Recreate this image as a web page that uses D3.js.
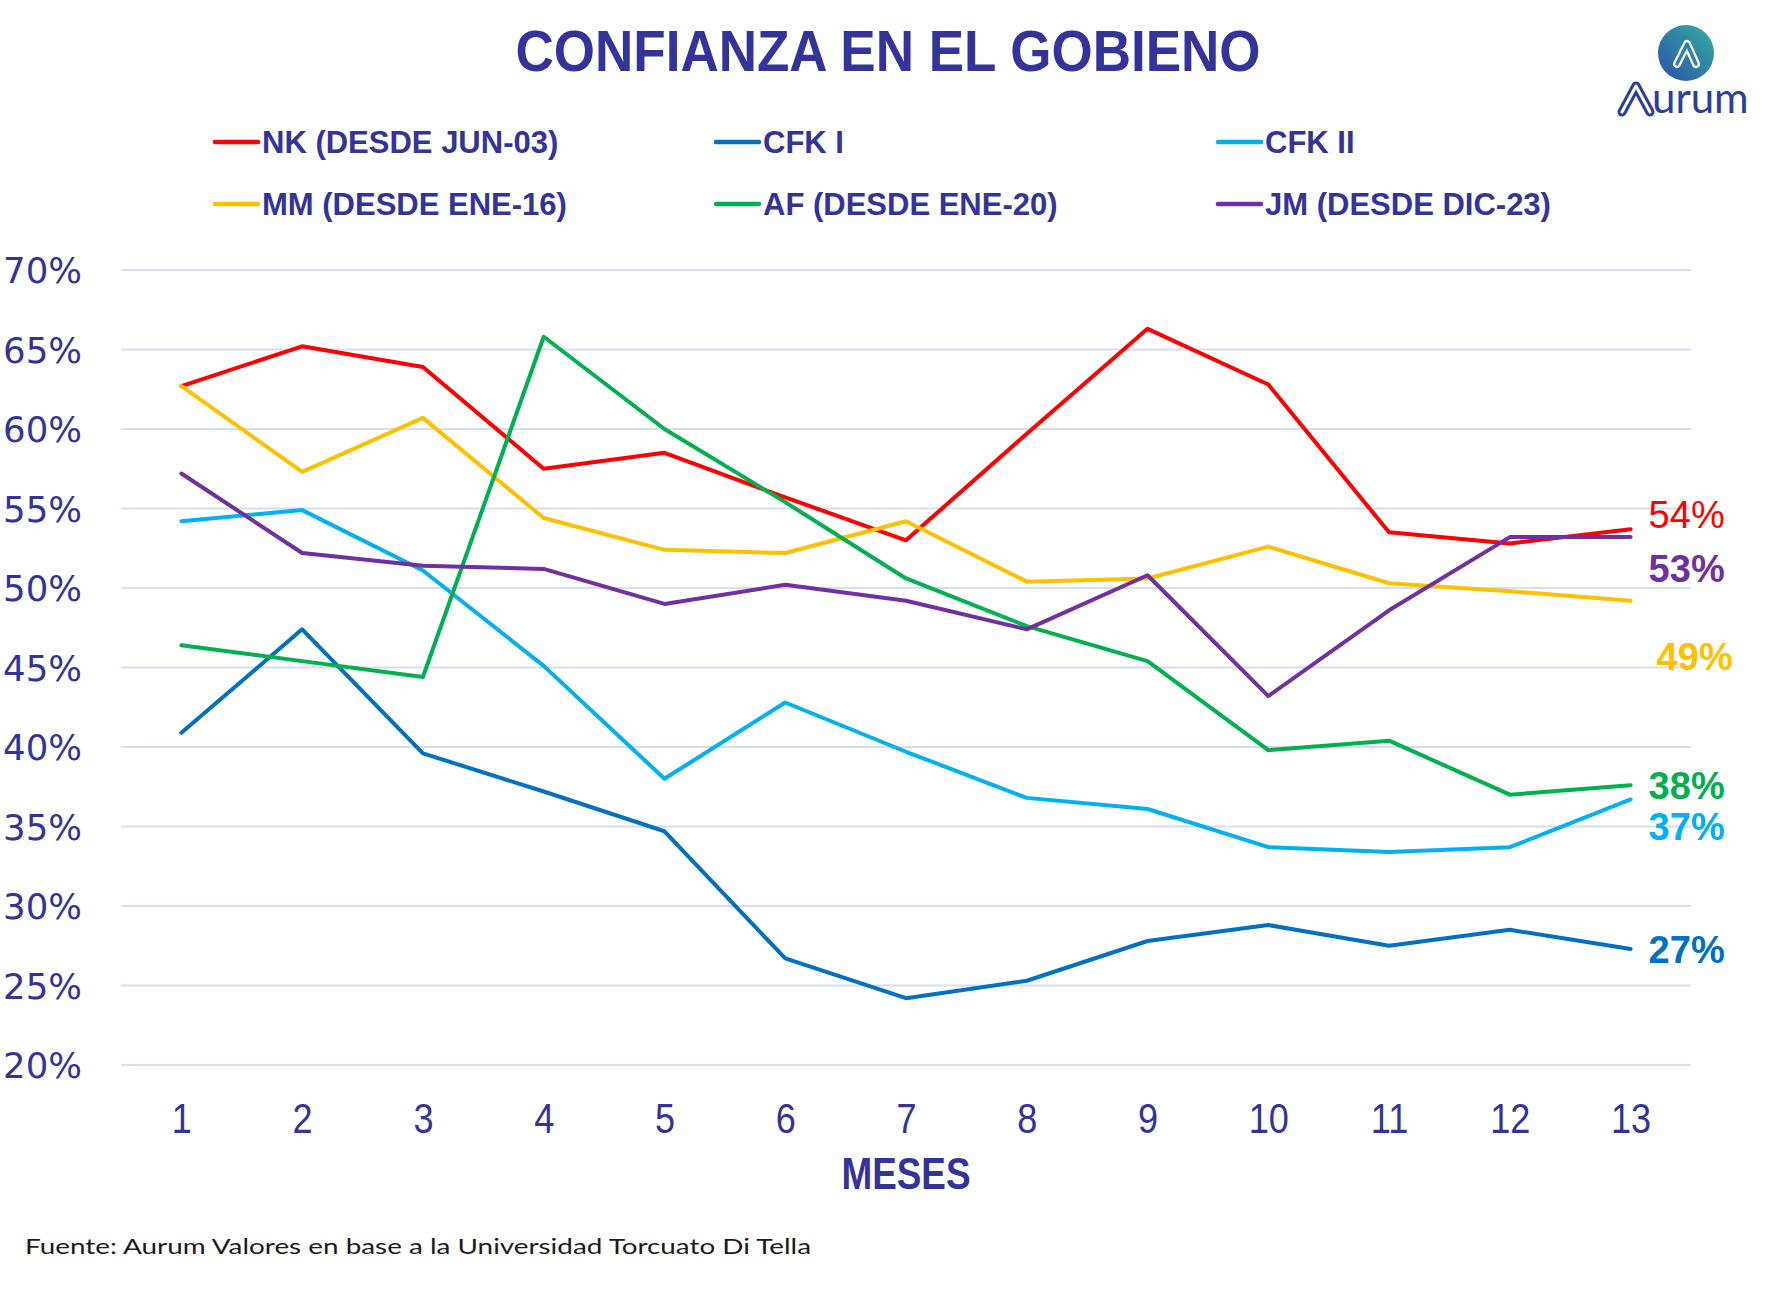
<!DOCTYPE html>
<html><head><meta charset="utf-8">
<script src="https://cdn.jsdelivr.net/npm/d3@7"></script>
<style>body{margin:0;background:#fff} svg{display:block}</style>
</head><body>
<svg id="c" width="1777" height="1289"></svg>
<script>
// ---- data ----
const months = [1,2,3,4,5,6,7,8,9,10,11,12,13];
const seriesNames = ["NK (DESDE JUN-03)","CFK I","CFK II","MM (DESDE ENE-16)","AF (DESDE ENE-20)","JM (DESDE DIC-23)"];
const nk   = [0.627,0.652,0.639,0.575,0.585,0.557,0.530,0.597,0.663,0.628,0.535,0.528,0.537];
const cfk1 = [0.409,0.474,0.396,0.372,0.347,0.267,0.242,0.253,0.278,0.288,0.275,0.285,0.273];
const cfk2 = [0.542,0.549,0.511,0.451,0.380,0.428,0.397,0.368,0.361,0.337,0.334,0.337,0.367];
const mm   = [0.627,0.573,0.607,0.544,0.524,0.522,0.542,0.504,0.506,0.526,0.503,0.498,0.492];
const af   = [0.464,0.454,0.444,0.658,0.600,0.554,0.506,0.476,0.454,0.398,0.404,0.370,0.376];
const jm   = [0.572,0.522,0.514,0.512,0.490,0.502,0.492,0.474,0.508,0.432,0.486,0.532,0.532];
const yTicks = [0.20,0.25,0.30,0.35,0.40,0.45,0.50,0.55,0.60,0.65,0.70];
const titleText = "CONFIANZA EN EL GOBIENO";
const xTitle = "MESES";
const sourceText = "Fuente: Aurum Valores en base a la Universidad Torcuato Di Tella";

// ---- styles ----
const colors = ["#FF0000","#0070C0","#00B0F0","#FFC000","#00B050","#7030A0"];
const ink = "#333399";
const allSeries = [nk,cfk1,cfk2,mm,af,jm];
// end label vertical offsets (px) and weights, per series
const labelDy = [-15, 0, 27, 56, 0, 31];
const labelDx = [18, 18, 18, 26, 18, 18];
const labelWeight = ["normal","bold","bold","bold","bold","bold"];

const svg = d3.select("#c");
const SANS = "'Liberation Sans', Arial, sans-serif";

const x = d3.scalePoint().domain(months).range([121,1691]).padding(0.5);
const y = d3.scaleLinear().domain([0.20,0.70]).range([1065,270]);

// gridlines
svg.append("g").selectAll("line").data(yTicks).join("line")
  .attr("x1",121).attr("x2",1691)
  .attr("y1",d=>y(d)).attr("y2",d=>y(d))
  .attr("stroke","#D6DFF0").attr("stroke-width",1.8);

// y axis labels
const yAxis = d3.axisLeft(y).tickValues(yTicks).tickFormat(d3.format(".0%")).tickSize(0).tickPadding(0);
const gy = svg.append("g").attr("transform","translate(82,0)").call(yAxis);
gy.select(".domain").remove();
gy.selectAll("text").attr("font-family","'DejaVu Sans', sans-serif").attr("font-size",35.5)
  .attr("fill",ink).attr("dy","0.36em");

// x axis labels
const xAxis = d3.axisBottom(x).tickSize(0).tickPadding(0);
const gx = svg.append("g").attr("transform","translate(0,1133)").call(xAxis);
gx.select(".domain").remove();
gx.selectAll("text").attr("font-family",SANS).attr("font-size",43)
  .attr("fill",ink).attr("dy",0).attr("y",0).attr("transform","scale(0.84,1)");

svg.append("text").attr("x",x(7)).attr("y",1189).attr("text-anchor","middle")
  .attr("font-family",SANS).attr("font-weight","bold").attr("font-size",44)
  .attr("textLength",129).attr("lengthAdjust","spacingAndGlyphs")
  .attr("fill",ink).text(xTitle);

// lines
const line = d3.line().x((d,i)=>x(months[i])).y(d=>y(d));
svg.append("g").selectAll("path").data(allSeries).join("path")
  .attr("d",line).attr("fill","none")
  .attr("stroke",(d,i)=>colors[i]).attr("stroke-width",4)
  .attr("stroke-linejoin","round").attr("stroke-linecap","round");

// end labels
svg.append("g").selectAll("text").data(allSeries).join("text")
  .attr("x",(d,i)=>x(13)+labelDx[i])
  .attr("y",(d,i)=>y(d[d.length-1])+labelDy[i]+13.6)
  .attr("font-family",SANS).attr("font-size",38)
  .attr("font-weight",(d,i)=>labelWeight[i])
  .attr("fill",(d,i)=>colors[i])
  .text(d=>d3.format(".0%")(d[d.length-1]));

// title
svg.append("text").attr("x",888).attr("y",71).attr("text-anchor","middle")
  .attr("font-family",SANS).attr("font-weight","bold").attr("font-size",58)
  .attr("textLength",745).attr("lengthAdjust","spacingAndGlyphs")
  .attr("fill",ink).text(titleText);

// legend
const colX = [215,716,1218], rowY = [142,204];
const lg = svg.append("g").selectAll("g").data(seriesNames).join("g")
  .attr("transform",(d,i)=>`translate(${colX[i%3]},${rowY[Math.floor(i/3)]})`);
lg.append("line").attr("x1",0).attr("x2",43).attr("y1",0).attr("y2",0)
  .attr("stroke",(d,i)=>colors[i]).attr("stroke-width",4.5).attr("stroke-linecap","round");
lg.append("text").attr("x",47).attr("y",11)
  .attr("font-family",SANS).attr("font-weight","bold").attr("font-size",31)
  .attr("fill",ink).text(d=>d);

// source
svg.append("text").attr("x",25).attr("y",1254)
  .attr("font-family","Lato, 'Noto Sans', sans-serif").attr("font-size",22)
  .attr("textLength",786).attr("lengthAdjust","spacingAndGlyphs")
  .attr("fill","#1a1a1a").text(sourceText);

// logo
const defs = svg.append("defs");
const gr = defs.append("linearGradient").attr("id","lg1").attr("x1","1").attr("y1","0").attr("x2","0").attr("y2","1");
gr.append("stop").attr("offset","0").attr("stop-color","#35B0A3");
gr.append("stop").attr("offset","1").attr("stop-color","#2A4FA8");
const logo = svg.append("g").attr("transform","translate(1686,53)");
logo.append("circle").attr("r",28).attr("fill","url(#lg1)");
logo.append("path").attr("d","M-9,11 L1,-9 L10,11").attr("fill","none")
  .attr("stroke","#fff").attr("stroke-width",8).attr("stroke-linejoin","round").attr("stroke-linecap","round");
logo.append("path").attr("d","M-9,11 L1,-9 L10,11").attr("fill","none")
  .attr("stroke","#2f7fa8").attr("stroke-width",3.5).attr("stroke-linejoin","round").attr("stroke-linecap","round");
const aw = svg.append("g").attr("transform","translate(1634,100)");
aw.append("path").attr("d","M-12,12 L2,-14 L16,12").attr("fill","none")
  .attr("stroke","#2B3E9C").attr("stroke-width",9).attr("stroke-linejoin","round").attr("stroke-linecap","round");
aw.append("path").attr("d","M-12,12 L2,-14 L16,12").attr("fill","none")
  .attr("stroke","#fff").attr("stroke-width",3).attr("stroke-linejoin","round").attr("stroke-linecap","round");
svg.append("text").attr("x",1652).attr("y",113).attr("font-family","Lato, 'Noto Sans', sans-serif")
  .attr("font-size",42).attr("fill","#2B3E9C").text("urum");
</script>
</body></html>
